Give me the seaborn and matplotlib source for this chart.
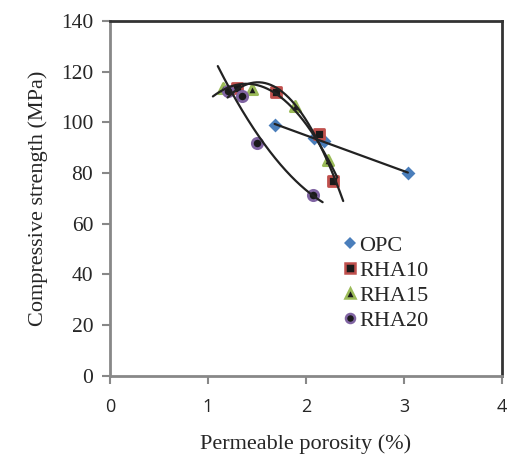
import numpy as np
import matplotlib
matplotlib.use("Agg")
import matplotlib.pyplot as plt
import seaborn as sns
from matplotlib.lines import Line2D

sns.set_style("white")
plt.rcParams['font.family'] = ['Liberation Serif', 'DejaVu Serif']

# Dados (porosidade %, resistência MPa)
opc_x = [1.68, 2.08, 2.18, 3.04]
opc_y = [99.0, 94.0, 92.6, 80.0]
rha10_x = [1.30, 1.69, 2.13, 2.28]
rha10_y = [113.6, 112.0, 95.4, 77.0]
rha15_x = [1.15, 1.45, 1.89, 2.22]
rha15_y = [113.6, 113.0, 106.5, 85.0]
rha20_x = [1.20, 1.35, 1.50, 2.07]
rha20_y = [112.4, 110.4, 91.9, 71.4]

series = [
    ("OPC", opc_x, opc_y, "D", "#4a7ebb", "#4a7ebb", 1, 0.0),
    ("RHA10", rha10_x, rha10_y, "s", "#1a1a1a", "#c0504d", 2, 0.1),
    ("RHA15", rha15_x, rha15_y, "^", "#1a1a1a", "#9bbb59", 2, 0.1),
    ("RHA20", rha20_x, rha20_y, "o", "#1a1a1a", "#8064a2", 2, 0.1),
]

fig = plt.figure(figsize=(5.07, 4.55), dpi=100)
ax = fig.add_axes([0.217, 0.174, 0.773, 0.780])

handles = []
for name, xs, ys, mk, face, edge, deg, ext in series:
    # linha de tendência (polinomial, como no Excel)
    coef = np.polyfit(xs, ys, deg)
    xx = np.linspace(min(xs) - ext, max(xs) + ext, 200)
    ax.plot(xx, np.polyval(coef, xx), color="#222222", lw=1.6, zorder=3)
    sns.scatterplot(x=xs, y=ys, ax=ax, marker=mk, s=55 if mk != "D" else 50,
                    color=face, edgecolor=edge, linewidth=2 if mk != "D" else 0,
                    zorder=2, legend=False)
    handles.append(Line2D([], [], ls="none", marker=mk, markersize=6.5,
                          markerfacecolor=face, markeredgecolor=edge,
                          markeredgewidth=1.8 if mk != "D" else 0, label=name))

ax.set_xlim(0, 4)
ax.set_ylim(0, 140)
ax.set_xticks([0, 1, 2, 3, 4])
ax.set_yticks(range(0, 141, 20))
ax.tick_params(axis="y", labelsize=15.5, direction="out", length=6, width=1.5, color="#888888", left=True, pad=6)
ax.tick_params(axis="x", labelsize=13, direction="out", length=6, width=1.5, color="#888888", bottom=True, pad=10,
               labelfontfamily="Open Sans")

for side in ["left", "bottom"]:
    ax.spines[side].set_color("#888888")
    ax.spines[side].set_linewidth(2)
for side in ["top", "right"]:
    ax.spines[side].set_color("#333333")
    ax.spines[side].set_linewidth(2)

ax.set_xlabel("Permeable porosity (%)", fontsize=16, labelpad=13)
ax.set_ylabel("Compressive strength (MPa)", fontsize=16, labelpad=9)
ax.grid(False)

ax.legend(handles=handles, loc="upper left", bbox_to_anchor=(0.575, 0.42), frameon=False,
          fontsize=16, handlelength=0.5, handletextpad=0.16, labelspacing=0.19,
          borderaxespad=0)

fig.savefig("out.png", dpi=100)
